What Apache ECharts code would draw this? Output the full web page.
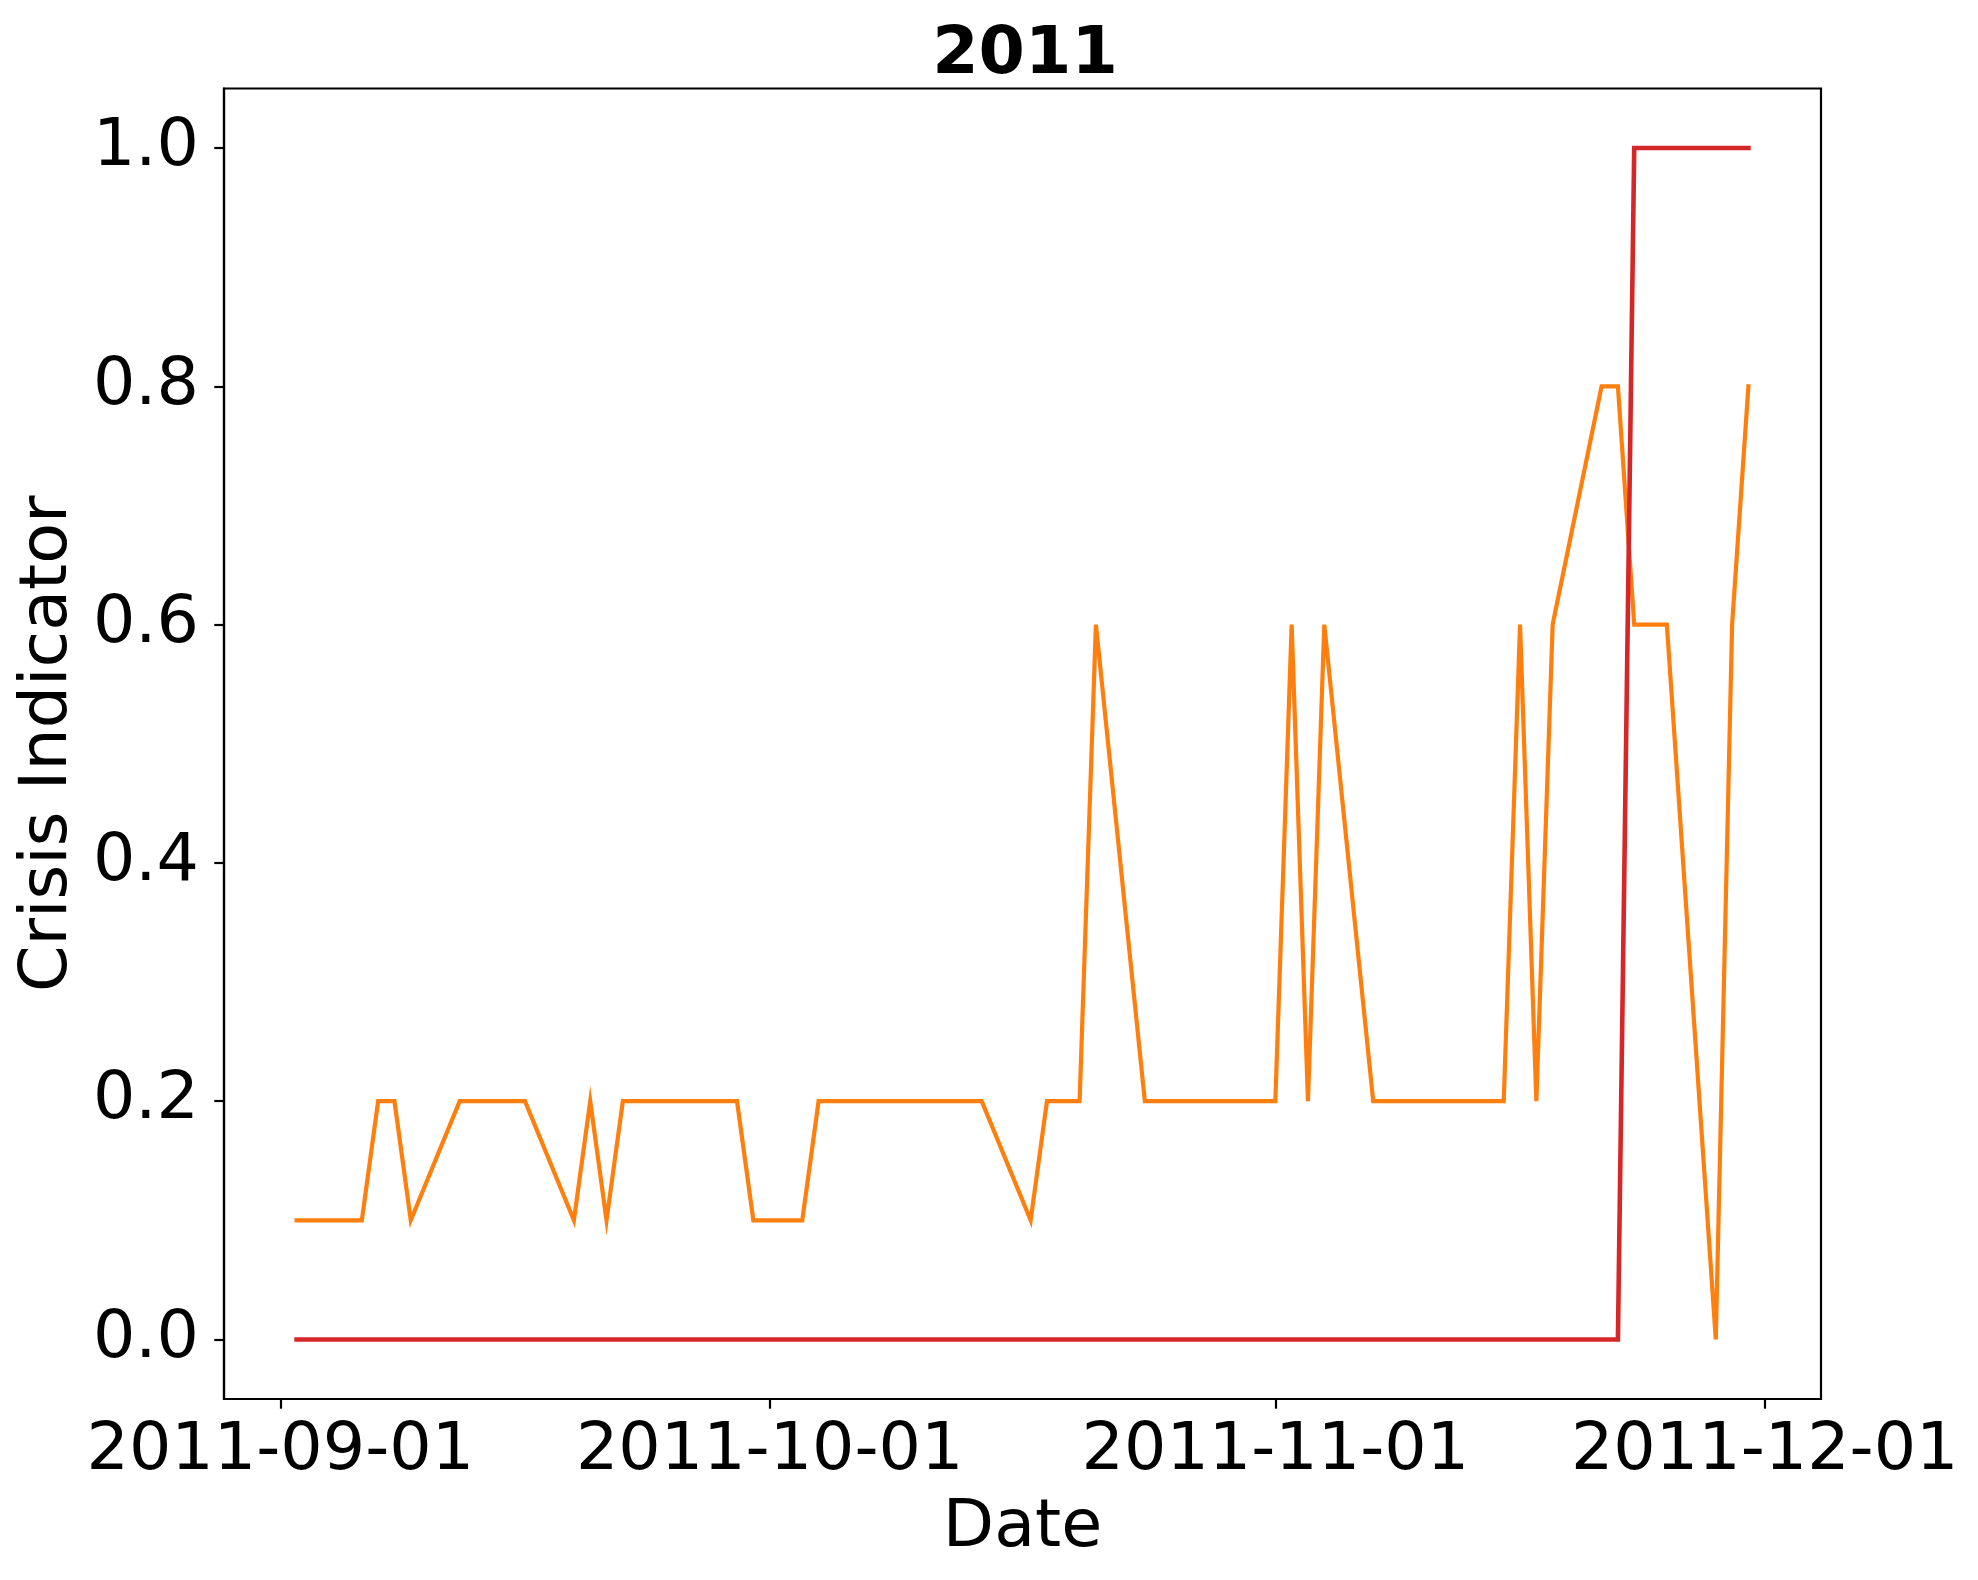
<!DOCTYPE html>
<html>
<head>
<meta charset="utf-8">
<script src="https://cdn.jsdelivr.net/npm/echarts@6/dist/echarts.min.js"></script>
<style>
html,body{margin:0;padding:0;background:#fff;}
#chart{width:1978px;height:1580px;}
</style>
</head>
<body>
<div id="chart"></div>
<script>
// ---- data ----
const dates = [
  '2011-09-02','2011-09-05','2011-09-06','2011-09-07','2011-09-08','2011-09-09',
  '2011-09-12','2011-09-13','2011-09-14','2011-09-15','2011-09-16',
  '2011-09-19','2011-09-20','2011-09-21','2011-09-22','2011-09-23',
  '2011-09-26','2011-09-27','2011-09-28','2011-09-29','2011-09-30',
  '2011-10-03','2011-10-04','2011-10-05','2011-10-06','2011-10-07',
  '2011-10-10','2011-10-11','2011-10-12','2011-10-13','2011-10-14',
  '2011-10-17','2011-10-18','2011-10-19','2011-10-20','2011-10-21',
  '2011-10-24','2011-10-25','2011-10-26','2011-10-27','2011-10-28',
  '2011-10-31','2011-11-01','2011-11-02','2011-11-03','2011-11-04',
  '2011-11-07','2011-11-08','2011-11-09','2011-11-10','2011-11-11',
  '2011-11-14','2011-11-15','2011-11-16','2011-11-17','2011-11-18',
  '2011-11-21','2011-11-22','2011-11-23','2011-11-24','2011-11-25',
  '2011-11-28','2011-11-29','2011-11-30'
];
const orangeValues = [
  0.1,0.1,0.1,0.2,0.2,0.1,
  0.2,0.2,0.2,0.2,0.2,
  0.1,0.2,0.1,0.2,0.2,
  0.2,0.2,0.2,0.2,0.1,
  0.1,0.2,0.2,0.2,0.2,
  0.2,0.2,0.2,0.2,0.2,
  0.1,0.2,0.2,0.2,0.6,
  0.2,0.2,0.2,0.2,0.2,
  0.2,0.2,0.6,0.2,0.6,
  0.2,0.2,0.2,0.2,0.2,
  0.2,0.2,0.6,0.2,0.6,
  0.8,0.8,0.6,0.6,0.6,
  0.0,0.6,0.8
];
const redValues = [
  0,0,0,0,0,0,
  0,0,0,0,0,
  0,0,0,0,0,
  0,0,0,0,0,
  0,0,0,0,0,
  0,0,0,0,0,
  0,0,0,0,0,
  0,0,0,0,0,
  0,0,0,0,0,
  0,0,0,0,0,
  0,0,0,0,0,
  0,0,1,1,1,
  1,1,1
];
const xTickDates = ['2011-09-01','2011-10-01','2011-11-01','2011-12-01'];
const yTicks = [0.0,0.2,0.4,0.6,0.8,1.0];
const titleText = '2011';
const xName = 'Date';
const yName = 'Crisis Indicator';

// ---- helpers ----
const DAY = 86400000;
function ts(s){const p=s.split('-').map(Number);return Date.UTC(p[0],p[1]-1,p[2]);}
function pad(n){return (n<10?'0':'')+n;}
function fmt(v){const d=new Date(v);return d.getUTCFullYear()+'-'+pad(d.getUTCMonth()+1)+'-'+pad(d.getUTCDate());}

const xs = dates.map(ts);
const span = xs[xs.length-1]-xs[0];
const xMin = xs[0]-0.05*span;
const xMax = xs[xs.length-1]+0.05*span;
const xTicks = xTickDates.map(ts);

const FONT = 'DejaVu Sans';
const FS = 66.7;

const chart = echarts.init(document.getElementById('chart'), null, {renderer:'canvas'});
chart.setOption({
  animation:false,
  backgroundColor:'#ffffff',
  title:{
    text:titleText,
    left:1020, top:17, textAlign:'center',
    textStyle:{fontFamily:FONT,fontSize:FS,fontWeight:'bold',color:'#000'}
  },
  grid:{
    left:224, right:157, top:88.5, bottom:181,
    show:true, borderColor:'#000', borderWidth:2.2, backgroundColor:'transparent'
  },
  xAxis:{
    type:'value', min:xMin, max:xMax,
    name:xName, nameLocation:'middle', nameGap:96,
    nameTextStyle:{fontFamily:FONT,fontSize:FS,color:'#000'},
    axisLine:{show:true,onZero:false,lineStyle:{color:'#000',width:2.2}},
    axisTick:{show:true,inside:false,length:9.7,lineStyle:{color:'#000',width:2.2},customValues:xTicks},
    axisLabel:{show:true,margin:19,fontFamily:FONT,fontSize:FS,color:'#000',customValues:xTicks,formatter:function(v){return fmt(v);}},
    splitLine:{show:false}
  },
  yAxis:{
    type:'value', min:-0.05, max:1.05,
    name:yName, nameLocation:'middle', nameGap:140, nameRotate:90,
    nameTextStyle:{fontFamily:FONT,fontSize:FS,color:'#000'},
    axisLine:{show:true,onZero:false,lineStyle:{color:'#000',width:2.2}},
    axisTick:{show:true,inside:false,length:9.7,lineStyle:{color:'#000',width:2.2},customValues:yTicks},
    axisLabel:{show:true,margin:25,fontFamily:FONT,fontSize:FS,color:'#000',customValues:yTicks,formatter:function(v){return v.toFixed(1);}},
    splitLine:{show:false}
  },
  series:[
    {
      type:'line', name:'orange', showSymbol:false, symbol:'none',
      data:xs.map((x,i)=>[x,orangeValues[i]]),
      lineStyle:{color:'#ff7f0e',width:4.2,cap:'square',join:'miter'},
      z:2
    },
    {
      type:'line', name:'red', showSymbol:false, symbol:'none',
      data:xs.map((x,i)=>[x,redValues[i]]),
      lineStyle:{color:'#d62728',width:4.6,cap:'square',join:'miter'},
      z:3
    }
  ]
});
</script>
</body>
</html>
